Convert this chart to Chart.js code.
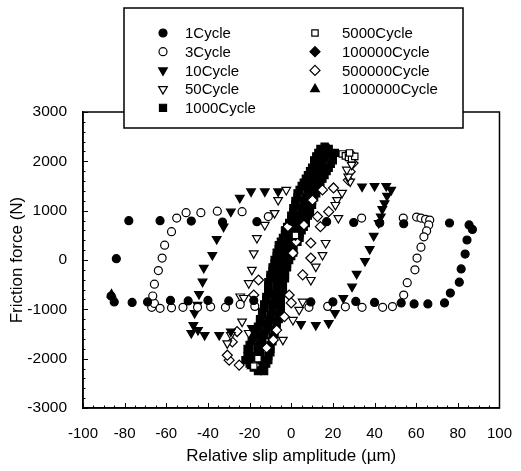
<!DOCTYPE html>
<html>
<head>
<meta charset="utf-8">
<script src="https://cdn.jsdelivr.net/npm/chart.js@4/dist/chart.umd.min.js"></script>
<style>
  html, body { margin: 0; padding: 0; background: #fff; }
  #wrap { width: 521px; height: 471px; }
</style>
</head>
<body>
<div id="wrap"><canvas id="frictionChart" width="521" height="471"></canvas></div>
<script>
// tick labels
const xTickLabels = [-100, -80, -60, -40, -20, 0, 20, 40, 60, 80, 100];
const yTickLabels = [-3000, -2000, -1000, 0, 1000, 2000, 3000];

// series names
const cycleNames = ['1Cycle', '3Cycle', '10Cycle', '50Cycle', '1000Cycle',
    '5000Cycle', '100000Cycle', '500000Cycle', '1000000Cycle'];

// [slip amplitude (um), friction force (N)]
const cycle1 = [
    [-78, 797], [-63, 797], [-48, 790], [-33, 770], [-16.5, 777], [0, 790], [17, 777],
    [30, 760], [42.5, 750], [54, 735], [76, 750], [85.4, 710], [87, 620],
    [84.4, 405], [83.5, 120], [81.6, -180], [80.7, -450], [76.4, -670], [73.6, -870],
    [65.6, -890], [59, -890], [52.8, -870], [40, -860], [31, -840], [20, -850],
    [9.4, -850], [-5.6, -830], [-18, -820], [-30, -830], [-40, -820], [-49.5, -830],
    [-58, -820], [-69, -850], [-76.4, -860], [-85, -850], [-86.5, -730], [-84, 26]
];
const cycle3 = [
    [-67, -960], [-65.7, -880], [-66.5, -730], [-65.7, -490], [-63.8, -215], [-62, 40],
    [-60.8, 300], [-57.5, 575], [-55, 850], [-50.5, 960], [-43.4, 960], [-35.5, 990],
    [-23.6, 980], [-11, 880], [33.8, 850], [53.8, 850], [60.2, 870], [62.3, 850],
    [64.5, 825], [66.5, 810], [66, 710], [65, 590], [63.7, 470], [62.3, 260], [60.4, 40],
    [59.4, -200], [55.7, -460], [54, -710], [48.6, -945], [43.9, -960], [34, -960],
    [26, -950], [17.5, -940], [8.5, -960], [-17.5, -940], [-24.5, -900], [-31.6, -960],
    [-38.7, -950], [-45, -960], [-52, -960], [-57.5, -970], [-63, -980]
];
const cycle10 = [
    [-47, -1320], [-46.4, -1075], [-45, -910], [-44.3, -690], [-42.6, -440], [-42, -160],
    [-37.9, 100], [-35.8, 425], [-32.5, 675], [-29, 980], [-24.7, 1260], [-19.3, 1390],
    [-12.7, 1390], [-6.3, 1390], [34, 1490], [40, 1500], [45.6, 1500], [48, 1420],
    [46, 1300], [44.8, 1150], [43.7, 1030], [43, 880], [42, 750], [39.6, 490], [37.7, 220],
    [35.4, -20], [31.4, -280], [29.2, -540], [25, -770], [21, -1075], [18, -1280],
    [11.8, -1320], [4.7, -1300], [-18.9, -1380], [-29, -1450], [-34.6, -1520],
    [-41.6, -1520], [-44.8, -1420], [-48, -1480]
];
const cycle50 = [
    [-30.7, -1690], [-29, -1520], [-23.6, -1250], [-20.4, -1480], [-24.5, -740],
    [-22.8, -770], [-20.4, -470], [-18.9, -200], [-18, 135], [-16.5, 445], [-12.7, 710],
    [-8, 950], [-6.3, 1215], [-2.4, 1420], [24.4, 1360], [22, 1215], [28.3, 1590],
    [27.4, 1690], [26.7, 1830], [29, 1930], [21.2, 1115], [22.6, 850], [16.5, 345],
    [15, 100], [11.8, -135], [9.4, -405], [5.5, -845], [3.8, -1010], [0.8, -1215],
    [-4, -1620]
];
const cycle1000 = [
    [-16, -2250], [-13, -2250], [-18, -2180], [-14, -2180],
    [-20, -2100], [-16, -2100], [-12, -2100], [-22, -2030], [-18, -2030], [-14, -2030], [-11, -2030],
    [-21, -1950], [-17, -1950], [-11, -1950], [-20, -1870], [-15, -1870], [-10, -1870],
    [-21, -1800], [-16, -1800], [-10, -1800], [-20, -1720], [-15, -1720], [-10, -1720],
    [-19, -1650], [-14, -1650], [-9, -1650], [-18, -1570], [-14, -1570], [-9, -1570],
    [-18, -1500], [-13, -1500], [-8, -1500], [-17, -1420], [-12, -1420], [-8, -1420],
    [-16, -1350], [-11, -1350], [-7, -1350], [-15, -1270], [-11, -1270], [-7, -1270],
    [-15, -1200], [-10, -1200], [-6, -1200], [-14, -1120], [-10, -1120], [-6, -1120],
    [-14, -1050], [-9, -1050], [-5, -1050], [-13, -970], [-9, -970], [-5, -970],
    [-13, -900], [-9, -900], [-5, -900], [-12, -820], [-8, -820], [-5, -820],
    [-12, -750], [-8, -750], [-5, -750], [-11, -670], [-8, -670], [-4, -670],
    [-11, -600], [-7, -600], [-4, -600], [-11, -520], [-7, -520], [-4, -520],
    [-11, -450], [-7, -450], [-4, -450], [-10, -370], [-7, -370], [-3, -370],
    [-10, -300], [-6, -300], [-3, -300], [-9, -220], [-6, -220], [-3, -220],
    [-9, -150], [-6, -150], [-2, -150], [-8, -70], [-5, -70], [-2, -70],
    [-8, 0], [-5, 0], [-1, 0], [-7, 80], [-4, 80], [0, 80],
    [-7, 150], [-3, 150], [1, 150], [-6, 220], [-3, 220], [1, 220],
    [-6, 300], [-2, 300], [1, 300], [-5, 370], [-1, 370], [3, 370],
    [-4, 450], [0, 450], [4, 450], [-3, 520], [1, 520], [4, 520],
    [-3, 600], [1, 600], [5, 600], [-2, 670], [2, 670], [6, 670],
    [-1, 750], [3, 750], [7, 750], [0, 820], [3, 820], [7, 820],
    [0, 900], [4, 900], [8, 900], [1, 970], [5, 970], [9, 970],
    [1, 1050], [5, 1050], [9, 1050], [2, 1120], [6, 1120], [10, 1120],
    [2, 1200], [6, 1200], [10, 1200], [3, 1270], [7, 1270], [11, 1270],
    [3, 1350], [8, 1350], [12, 1350], [4, 1420], [8, 1420], [12, 1420],
    [5, 1500], [9, 1500], [13, 1500], [6, 1570], [10, 1570], [14, 1570],
    [7, 1650], [11, 1650], [15, 1650], [8, 1720], [12, 1720], [16, 1720],
    [9, 1800], [13, 1800], [17, 1800], [10, 1870], [14, 1870], [18, 1870],
    [11, 1950], [15, 1950], [19, 1950], [11, 2020], [15, 2020], [20, 2020],
    [12, 2100], [16, 2100], [20, 2100], [13, 2170], [17, 2170], [21, 2170],
    [14, 2250], [18, 2250], [16, 2300]
];
const cycle5000 = [
    [24.5, 2150], [26, 2110], [27.5, 2080], [29, 2050], [30.5, 2100], [28, 2170],
    [-18, -2150], [-16, -2000], [2, 500]
];
const cycle100000 = [
    [-20, -2000], [-15, -1700], [-12, -1300], [-8, -900], [-5, -500], [-2, 0],
    [2, 500], [6, 1000], [10, 1500], [14, 1900], [18, 2150], [-7, -650]
];
const cycle500000 = [
    [29, 2130], [29.7, 1965], [28.3, 1790], [27.4, 1620], [20.3, 1460], [15, 1420],
    [10.2, 1215], [18, 980], [12.6, 880], [14, 675], [6.1, 710], [-1.6, 675],
    [9.4, 345], [2.4, 370], [0.8, 140], [9.4, 40], [5.5, -300], [-15.7, -405],
    [-18, -710], [-1, -710], [0, -870], [-3.3, -1150], [-7, -1420], [-8.6, -1620],
    [-11.8, -1780], [-17.5, -2130], [-25, -2130], [-29.8, -2030], [-30.7, -1930],
    [-28.3, -1660], [-26, -1450]
];
const cycle1000000 = [
    [-19, -2150], [-16, -1900], [-13, -1550], [-10, -1150], [-7, -750], [-4, -300],
    [-1, 200], [3, 700], [7, 1200], [11, 1700], [15, 2050], [18, 2250], [-86.3, -700]
];

const seriesData = [cycle1, cycle3, cycle10, cycle50, cycle1000,
    cycle5000, cycle100000, cycle500000, cycle1000000];

// marker looks, same order as cycleNames
const markers = [
    { style: 'circle', radius: 4, filled: true, rotation: 0 },
    { style: 'circle', radius: 4, filled: false, rotation: 0 },
    { style: 'triangle', radius: 5, filled: true, rotation: 180 },
    { style: 'triangle', radius: 5, filled: false, rotation: 180 },
    { style: 'rect', radius: 5, filled: true, rotation: 0 },
    { style: 'rect', radius: 4.5, filled: false, rotation: 0 },
    { style: 'rectRot', radius: 5, filled: true, rotation: 0 },
    { style: 'rectRot', radius: 5, filled: false, rotation: 0 },
    { style: 'triangle', radius: 5, filled: true, rotation: 0 }
];

const datasets = cycleNames.map((name, i) => ({
    label: name,
    data: seriesData[i].map(p => ({ x: p[0], y: p[1] })),
    pointStyle: markers[i].style,
    pointRadius: markers[i].radius,
    pointRotation: markers[i].rotation,
    pointBackgroundColor: markers[i].filled ? '#000' : '#fff',
    pointBorderColor: '#000',
    pointBorderWidth: 1.2,
    order: i === 4 ? 5 : 0,
    showLine: false
}));

// frame, inward ticks and the boxed legend
const framePlugin = {
    id: 'frame',
    afterDraw(chart) {
        const ctx = chart.ctx;
        const area = chart.chartArea;
        const xs = chart.scales.x, ys = chart.scales.y;
        ctx.save();
        ctx.strokeStyle = '#000';
        ctx.lineWidth = 1.5;
        ctx.strokeRect(area.left, area.top, area.right - area.left, area.bottom - area.top);

        ctx.lineWidth = 1;
        ctx.beginPath();
        for (let v = -100; v <= 100; v += 5) {
            const px = Math.round(xs.getPixelForValue(v)) + 0.5;
            const len = v % 20 === 0 ? 5 : 2.5;
            ctx.moveTo(px, area.bottom);
            ctx.lineTo(px, area.bottom - len);
        }
        for (let v = -3000; v <= 3000; v += 200) {
            const py = Math.round(ys.getPixelForValue(v)) + 0.5;
            const len = v % 1000 === 0 ? 5 : 2.5;
            ctx.moveTo(area.left, py);
            ctx.lineTo(area.left + len, py);
        }
        ctx.stroke();

        // legend box
        ctx.fillStyle = '#fff';
        ctx.fillRect(124, 8, 339, 120);
        ctx.lineWidth = 1.5;
        ctx.strokeRect(124, 8, 339, 120);

        ctx.font = '15px "Liberation Sans", Arial, sans-serif';
        ctx.textBaseline = 'middle';
        cycleNames.forEach((name, i) => {
            const col = i < 5 ? 0 : 1;
            const row = col === 0 ? i : i - 5;
            const mx = col === 0 ? 163 : 315;
            const tx = col === 0 ? 185 : 342;
            const my = 33 + row * 18.7;
            const m = markers[i];
            ctx.fillStyle = m.filled ? '#000' : '#fff';
            ctx.strokeStyle = '#000';
            ctx.lineWidth = 1.2;
            Chart.helpers.drawPoint(ctx, {
                pointStyle: m.style, radius: m.radius, rotation: m.rotation, borderWidth: 1.2
            }, mx, my);
            ctx.fillStyle = '#000';
            ctx.fillText(name, tx, my + 1);
        });
        ctx.restore();
    }
};

Chart.defaults.font.family = '"Liberation Sans", Arial, sans-serif';
Chart.defaults.color = '#000';

const ctx = document.getElementById('frictionChart').getContext('2d');
const frictionChart = new Chart(ctx, {
    type: 'scatter',
    data: { datasets: datasets },
    options: {
        responsive: false,
        animation: false,
        layout: { padding: { left: 0, right: 14, top: 112, bottom: 0 } },
        plugins: {
            legend: { display: false },
            tooltip: { enabled: false }
        },
        scales: {
            x: {
                type: 'linear',
                min: xTickLabels[0],
                max: xTickLabels[xTickLabels.length - 1],
                ticks: {
                    stepSize: 20, padding: 9, font: { size: 15 }, color: '#000',
                    callback: v => String(v)
                },
                grid: { display: false },
                border: { display: true, color: '#000', width: 1.5 },
                title: {
                    display: true,
                    text: 'Relative slip amplitude (\u00b5m)',
                    font: { size: 17 },
                    color: '#000',
                    padding: { top: 6, bottom: 4 }
                },
                afterFit(scale) { scale.height = 63; }
            },
            y: {
                type: 'linear',
                min: yTickLabels[0],
                max: yTickLabels[yTickLabels.length - 1],
                ticks: {
                    stepSize: 1000, padding: 8, font: { size: 15.5 }, color: '#000',
                    callback: v => String(v)
                },
                grid: { display: false },
                border: { display: true, color: '#000', width: 1.5 },
                title: {
                    display: true,
                    text: 'Friction force (N)',
                    font: { size: 17 },
                    color: '#000',
                    padding: { top: 7, bottom: 4 }
                },
                afterFit(scale) { scale.width = 83; }
            }
        }
    },
    plugins: [framePlugin]
});
</script>
</body>
</html>
